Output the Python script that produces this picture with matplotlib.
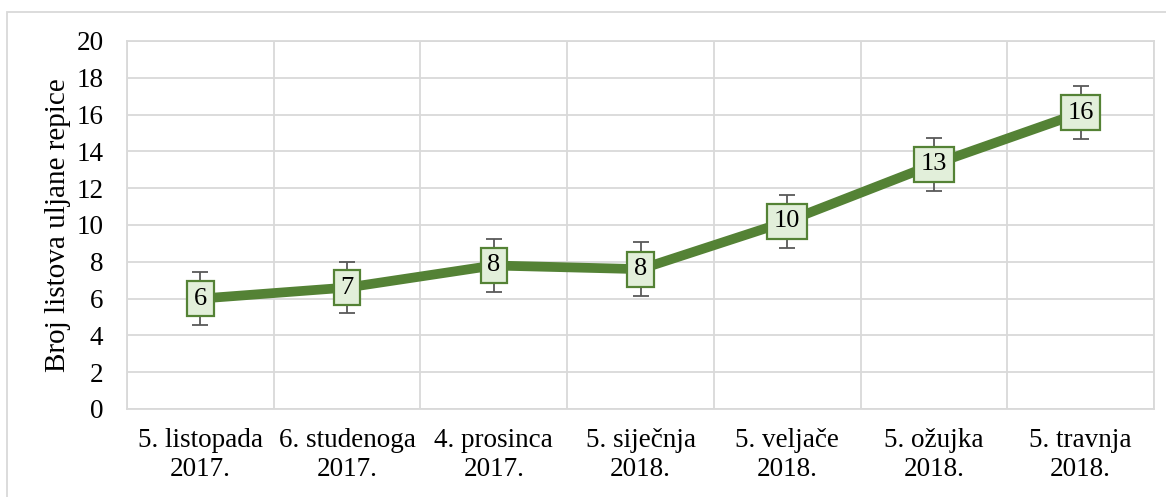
import matplotlib
matplotlib.use("Agg")
import matplotlib.pyplot as plt
from matplotlib.patches import Rectangle

categories = ["5. listopada\n2017.", "6. studenoga\n2017.", "4. prosinca\n2017.",
              "5. siječnja\n2018.", "5. veljače\n2018.", "5. ožujka\n2018.", "5. travnja\n2018."]
values = [6.0, 6.6, 7.8, 7.6, 10.2, 13.3, 16.1]
errors = [1.45, 1.4, 1.45, 1.45, 1.45, 1.45, 1.45]
labels = ["6", "7", "8", "8", "10", "13", "16"]
yticks = [0, 2, 4, 6, 8, 10, 12, 14, 16, 18, 20]

plt.rcParams['font.family'] = ['Liberation Serif', 'DejaVu Serif']

fig = plt.figure(figsize=(11.66, 4.97), dpi=100)
ax = fig.add_axes([127/1166, 1-409/497, (1154-127)/1166, (409-41)/497])

green = "#548235"
x = list(range(len(categories)))
ax.plot(x, values, color=green, lw=7, solid_capstyle='butt', zorder=3)
ax.errorbar(x, values, yerr=errors, fmt='none', ecolor="#595959", elinewidth=1.3,
            capsize=6, capthick=1.3, zorder=4)
for xi, v, lab in zip(x, values, labels):
    ax.text(xi, v, lab, ha='center', va='center', fontsize=19, zorder=5,
            bbox=dict(boxstyle='square,pad=0.25', fc="#e2efda", ec=green, lw=1.6))

ax.set_xlim(-0.5, len(categories) - 0.5)
ax.set_ylim(0, 20)
ax.set_yticks(yticks)
ax.set_xticks(x)
ax.set_xticklabels(categories, fontsize=19.5, linespacing=1.2)
ax.tick_params(axis='y', labelsize=19.5, length=0, pad=17)
ax.tick_params(axis='x', length=0, pad=14)
ax.set_xticks([i + 0.5 for i in range(-1, len(categories))], minor=True)
ax.grid(True, which='major', axis='y', color="#d9d9d9", lw=1.3)
ax.grid(True, which='minor', axis='x', color="#d9d9d9", lw=1.3)
ax.tick_params(which='minor', length=0)
for s in ax.spines.values():
    s.set_color("#d9d9d9")
    s.set_linewidth(1.3)
ax.set_axisbelow(True)
ax.set_ylabel("Broj listova uljane repice", fontsize=21)
ax.yaxis.set_label_coords(-56/1027, 0.5)

fig.patches.append(Rectangle((7/1166, -0.1), 1.2, 1-12/497+0.1, transform=fig.transFigure,
                             fill=False, ec="#d9d9d9", lw=1.3, clip_on=False))

fig.savefig("out.png", dpi=100)
